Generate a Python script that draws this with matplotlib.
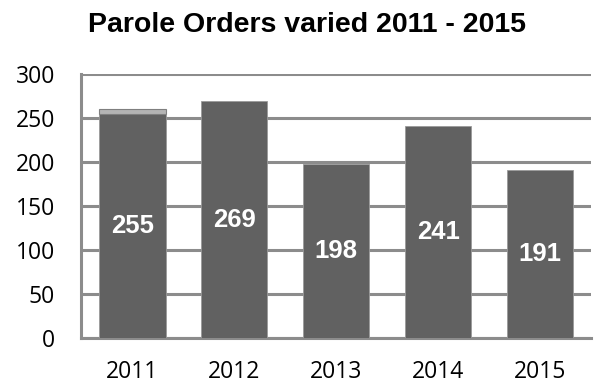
import matplotlib
matplotlib.use("Agg")
import matplotlib.pyplot as plt
import numpy as np

years = ["2011", "2012", "2013", "2014", "2015"]
orders = [255, 269, 198, 241, 191]
extra = [5, 0, 0, 0, 0]
y_ticks = [0, 50, 100, 150, 200, 250, 300]

BAR = "#616161"
GRID = "#8c8c8c"

fig = plt.figure(figsize=(5.97, 3.86), dpi=100)
ax = fig.add_axes([0.1365, 0.1244, 0.8535, 0.6839])

x = np.arange(len(years))
ax.bar(x, orders, width=0.65, color=BAR, edgecolor="#9a9a9a",
       linewidth=0.6, zorder=3)
# small top segment, only where present
mask = [e > 0 for e in extra]
ax.bar(x[mask], np.array(extra)[mask], bottom=np.array(orders)[mask],
       width=0.65, color="#b4b4b4", edgecolor="#7f7f7f", linewidth=0.8,
       zorder=3)

for xi, v in zip(x, orders):
    ax.text(xi, v / 2, str(v), ha="center", va="center", color="white",
            fontsize=18.5, fontweight="bold", family="Liberation Sans",
            zorder=4)

ax.set_xlim(-0.5, len(years) - 0.5)
ax.set_ylim(0, 300)
ax.set_yticks(y_ticks)
ax.set_xticks(x)
ax.set_xticklabels(years)
ax.yaxis.grid(True, color=GRID, linewidth=2.2, zorder=1)
ax.set_axisbelow(True)

for side in ("top", "right"):
    ax.spines[side].set_visible(False)
for side in ("left", "bottom"):
    ax.spines[side].set_color(GRID)
    ax.spines[side].set_linewidth(2.2)
    ax.spines[side].set_zorder(2)

ax.tick_params(axis="both", length=0, labelsize=16.5)
ax.tick_params(axis="y", pad=19)
ax.tick_params(axis="x", pad=16)
for lab in ax.get_xticklabels() + ax.get_yticklabels():
    lab.set_family("Open Sans")

fig.text(306.5 / 597, 1 - 24.5 / 386, "Parole Orders varied 2011 - 2015",
         ha="center", va="center", fontsize=20.5, fontweight="bold",
         family="Liberation Sans")

fig.savefig("out.png", dpi=100)
